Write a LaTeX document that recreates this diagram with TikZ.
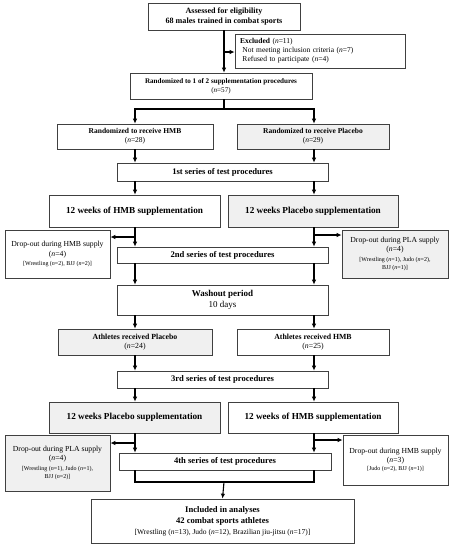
\documentclass[tikz,border=0pt]{standalone}
\usepackage{fontspec}
\setmainfont{Liberation Serif}
\usetikzlibrary{positioning,arrows.meta}

\begin{document}
\begin{tikzpicture}[x=1pt, y=-1pt,
    box/.style={draw=black!75, line width=0.7pt, inner sep=0pt, align=center, fill=white},
    gbox/.style={box, fill=black!6},
    big/.style={font=\fontsize{9.2}{11}\selectfont\bfseries},
    series/.style={font=\fontsize{8.6}{10}\selectfont\bfseries},
    mid/.style={font=\fontsize{7.5}{9}\selectfont},
    drop/.style={font=\fontsize{7.7}{9.5}\selectfont},
    arrow/.style={-{Latex[length=5pt,width=4.5pt]}, line width=1.1pt},
    line/.style={line width=1.1pt}
]
\useasboundingbox (0,0) rectangle (451,550);
\newcommand{\nn}[1]{(\textit{n}=#1)}
\newcommand{\sm}[1]{{\fontsize{6}{7.5}\selectfont #1}}

% Enrolment
\node[box, font=\fontsize{8.1}{10}\selectfont, minimum width=152, minimum height=27] (assess) at (224,16.5)
    {\textbf{Assessed for eligibility}\\\textbf{68 males trained in combat sports}};
\node[box, mid, minimum width=170, minimum height=34, align=left, text width=160] (excl) at (320,51)
    {\textbf{Excluded} \nn{11}\\\ Not meeting inclusion criteria \nn{7}\\\ Refused to participate \nn{4}};
\node[box, font=\fontsize{7.1}{9}\selectfont, minimum width=182, minimum height=26] (rand) at (221,86)
    {\textbf{Randomized to 1 of 2 supplementation procedures}\\\nn{57}};

% First period
\node[box, mid, minimum width=156, minimum height=25] (rhmb) at (135,136.5)
    {\textbf{Randomized to receive HMB}\\\nn{28}};
\node[gbox, mid, minimum width=152, minimum height=25] (rpla) at (313,136.5)
    {\textbf{Randomized to receive Placebo}\\\nn{29}};
\node[box, series, minimum width=211, minimum height=18] (s1) at (222.5,172)
    {1st series of test procedures};
\node[box, big, minimum width=171, minimum height=32] (whmb1) at (134.5,211)
    {12 weeks of HMB supplementation};
\node[gbox, big, minimum width=170, minimum height=32] (wpla1) at (313,211)
    {12 weeks Placebo supplementation};
\node[box, drop, minimum width=105, minimum height=48] (dhmb1) at (57.5,254)
    {Drop-out during HMB supply\\\nn{4}\\\sm{{[}Wrestling \nn{2}, BJJ \nn{2}]}};
\node[gbox, drop, minimum width=106, minimum height=48] (dpla1) at (395,254)
    {Drop-out during PLA supply\\\nn{4}\\\sm{{[}Wrestling \nn{1}, Judo \nn{2},}\\[-1pt]\sm{BJJ \nn{1}]}};
\node[box, series, minimum width=211, minimum height=16] (s2) at (222.5,255)
    {2nd series of test procedures};

% Washout
\node[box, font=\fontsize{9}{11}\selectfont, minimum width=211, minimum height=30] (wash) at (222.5,300)
    {\textbf{Washout period}\\10 days};

% Second period
\node[gbox, font=\fontsize{7.8}{9}\selectfont, minimum width=154, minimum height=26] (apla) at (135,342)
    {\textbf{Athletes received Placebo}\\\nn{24}};
\node[box, font=\fontsize{7.8}{9}\selectfont, minimum width=152, minimum height=26] (ahmb) at (313,342)
    {\textbf{Athletes received HMB}\\\nn{25}};
\node[box, series, minimum width=211, minimum height=17] (s3) at (222.5,379.5)
    {3rd series of test procedures};
\node[gbox, big, minimum width=171, minimum height=31] (wpla2) at (134.5,417.5)
    {12 weeks Placebo supplementation};
\node[box, big, minimum width=170, minimum height=31] (whmb2) at (313,417.5)
    {12 weeks of HMB supplementation};
\node[gbox, drop, minimum width=105, minimum height=56] (dpla2) at (57.5,463)
    {Drop-out during PLA supply\\\nn{4}\\\sm{{[}Wrestling \nn{1}, Judo \nn{1},}\\[-1pt]\sm{BJJ \nn{2}]}};
\node[box, drop, minimum width=105, minimum height=50] (dhmb2) at (395.5,460)
    {Drop-out during HMB supply\\[-1pt]\nn{3}\\[-1pt]\sm{{[}Judo \nn{2}, BJJ \nn{1}]}};
\node[box, series, minimum width=212, minimum height=17] (s4) at (225,461.5)
    {4th series of test procedures};

% Analysis
\node[box, font=\fontsize{7.5}{11}\selectfont, minimum width=263, minimum height=44] (incl) at (222.5,521)
    {\fontsize{8.6}{11}\selectfont\textbf{Included in analyses}\\\fontsize{8.6}{11}\selectfont\textbf{42 combat sports athletes}\\
     {[}Wrestling \nn{13}, Judo \nn{12}, Brazilian jiu-jitsu \nn{17}]};

% Column coordinates
\coordinate (L) at (135,0);
\coordinate (R) at (314,0);
\coordinate (ex) at (224,52);
\coordinate (sp) at (224,109);
\coordinate (b1) at (135,237);
\coordinate (b2) at (314,235);
\coordinate (b3) at (135,443);
\coordinate (b4) at (314,440);
\coordinate (jn) at (224,482);

% Connectors
\draw[arrow] (assess.south) -- (assess.south |- rand.north);
\draw[arrow] (ex) -- (ex -| excl.west);
\draw[line] (assess.south |- rand.south) -- (sp);
\draw[arrow] (sp) -| (rhmb.north -| L);
\draw[arrow] (sp) -| (rpla.north -| R);
\draw[arrow] (rhmb.south -| L) -- (s1.north -| L);
\draw[arrow] (rpla.south -| R) -- (s1.north -| R);
\draw[arrow] (s1.south -| L) -- (whmb1.north -| L);
\draw[arrow] (s1.south -| R) -- (wpla1.north -| R);
\draw[arrow] (whmb1.south -| L) -- (s2.north -| L);
\draw[arrow] (wpla1.south -| R) -- (s2.north -| R);
\draw[arrow] (b1) -- (b1 -| dhmb1.east);
\draw[arrow] (b2) -- (b2 -| dpla1.west);
\draw[arrow] (s2.south -| L) -- (wash.north -| L);
\draw[arrow] (s2.south -| R) -- (wash.north -| R);
\draw[arrow] (wash.south -| L) -- (apla.north -| L);
\draw[arrow] (wash.south -| R) -- (ahmb.north -| R);
\draw[arrow] (apla.south -| L) -- (s3.north -| L);
\draw[arrow] (ahmb.south -| R) -- (s3.north -| R);
\draw[arrow] (s3.south -| L) -- (wpla2.north -| L);
\draw[arrow] (s3.south -| R) -- (whmb2.north -| R);
\draw[arrow] (wpla2.south -| L) -- (s4.north -| L);
\draw[arrow] (whmb2.south -| R) -- (s4.north -| R);
\draw[arrow] (b3) -- (b3 -| dpla2.east);
\draw[arrow] (b4) -- (b4 -| dhmb2.west);
\draw[line] (s4.south -| L) |- (jn) -| (s4.south -| R);
\draw[arrow] (jn) -- (incl.north);

\end{tikzpicture}
\end{document}
